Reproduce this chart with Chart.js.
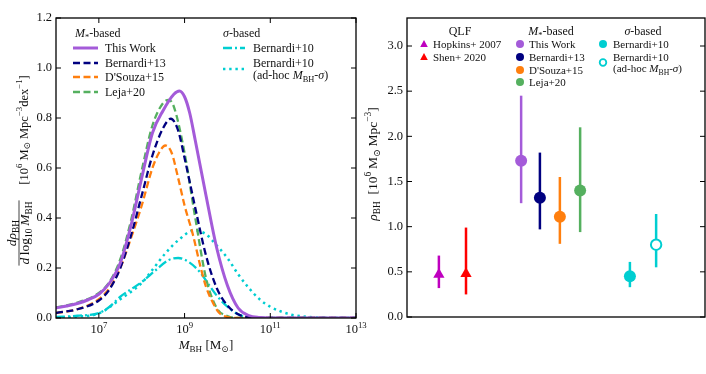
<!DOCTYPE html>
<html>
<head>
<meta charset="utf-8">
<script src="https://cdn.jsdelivr.net/npm/chart.js@4.4.1/dist/chart.umd.min.js"></script>
<style>
	html, body { margin: 0; padding: 0; background: #fff; }
	#wrap { position: relative; width: 706px; height: 374px; overflow: hidden; background: #fff; }
	#left { position: absolute; left: 0; top: 0; }
	#right { position: absolute; left: 360px; top: 0; }
</style>
</head>
<body>
<div id="wrap">
	<canvas id="left" width="400" height="374"></canvas>
	<canvas id="right" width="346" height="374"></canvas>
</div>
<script>
// ---- left panel: d rho_BH / d log10 M_BH  [10^6 Msun Mpc^-3 dex^-1] vs log10 M_BH
const massTicks = [7, 9, 11, 13]
const phiTicks = [0, 0.2, 0.4, 0.6, 0.8, 1.0, 1.2]

const thisWorkLogM = [6.0, 6.25, 6.5, 6.75, 7.0, 7.25, 7.5, 7.75, 8.0, 8.25, 8.5, 8.75, 8.88, 9.0, 9.12, 9.25, 9.5, 9.75, 10.0, 10.25, 10.5, 10.75, 11.0, 13.0]
const thisWorkPhi = [0.04, 0.048, 0.058, 0.073, 0.095, 0.14, 0.22, 0.37, 0.56, 0.74, 0.83, 0.895, 0.908, 0.885, 0.82, 0.71, 0.49, 0.28, 0.13, 0.04, 0.01, 0.002, 0, 0]

const bern13LogM = [6.0, 6.5, 7.0, 7.25, 7.5, 7.75, 8.0, 8.25, 8.5, 8.68, 8.85, 9.0, 9.25, 9.5, 9.75, 10.0, 10.25, 10.5, 10.75, 13.0]
const bern13Phi = [0.02, 0.035, 0.07, 0.115, 0.2, 0.33, 0.49, 0.65, 0.76, 0.797, 0.75, 0.64, 0.44, 0.25, 0.12, 0.05, 0.015, 0.003, 0, 0]

const dsouzaLogM = [6.0, 6.5, 7.0, 7.25, 7.5, 7.75, 8.0, 8.25, 8.4, 8.55, 8.7, 8.85, 9.0, 9.2, 9.35, 9.5, 9.65, 9.8, 10.0, 10.25, 13.0]
const dsouzaPhi = [0.02, 0.035, 0.075, 0.12, 0.2, 0.32, 0.45, 0.6, 0.66, 0.69, 0.66, 0.56, 0.45, 0.33, 0.22, 0.125, 0.065, 0.022, 0.004, 0, 0]

const lejaLogM = [6.0, 6.5, 7.0, 7.25, 7.5, 7.75, 8.0, 8.25, 8.5, 8.63, 8.75, 9.0, 9.25, 9.5, 9.75, 10.0, 10.25, 13.0]
const lejaPhi = [0.042, 0.062, 0.1, 0.145, 0.235, 0.39, 0.59, 0.77, 0.86, 0.872, 0.845, 0.66, 0.4, 0.16, 0.04, 0.008, 0, 0]

const bern10LogM = [6.0, 6.5, 7.0, 7.25, 7.5, 8.0, 8.33, 8.63, 8.85, 9.09, 9.35, 9.6, 9.75, 10.0, 10.25, 10.5, 10.75, 13.0]
const bern10Phi = [0.004, 0.009, 0.02, 0.045, 0.085, 0.144, 0.192, 0.232, 0.24, 0.225, 0.185, 0.125, 0.09, 0.045, 0.015, 0.003, 0, 0]

const adhocLogM = [6.0, 6.5, 7.0, 7.5, 8.0, 8.26, 8.56, 8.86, 9.22, 9.5, 9.75, 10.0, 10.25, 10.5, 10.75, 11.0, 11.25, 11.5, 11.75, 12.0, 12.5, 13.0]
const adhocPhi = [0.002, 0.006, 0.018, 0.075, 0.14, 0.195, 0.26, 0.312, 0.35, 0.335, 0.29, 0.24, 0.175, 0.12, 0.075, 0.045, 0.026, 0.013, 0.007, 0.003, 0, 0]

// ---- right panel: rho_BH [10^6 Msun Mpc^-3]
const rhoNames = ['Hopkins+ 2007', 'Shen+ 2020', 'This Work', 'Bernardi+13', "D'Souza+15", 'Leja+20', 'Bernardi+10', 'Bernardi+10 (ad-hoc)']
const rhoX = [1.07, 1.98, 3.83, 4.46, 5.13, 5.81, 7.48, 8.36]
const rhoVal = [0.47, 0.48, 1.73, 1.32, 1.11, 1.40, 0.45, 0.80]
const rhoLow = [0.32, 0.25, 1.26, 0.97, 0.81, 0.94, 0.33, 0.55]
const rhoHigh = [0.68, 0.99, 2.45, 1.82, 1.55, 2.10, 0.61, 1.14]
const rhoTicks = [0, 0.5, 1.0, 1.5, 2.0, 2.5, 3.0]

// styles
const SERIF = '"Liberation Serif", "DejaVu Serif", serif'
const PURPLE = '#a45bd9', NAVY = '#000080', ORANGE = '#ff7f0e', GREEN = '#55b05f', CYAN = '#00ced1'
const MAGENTA = '#bf00bf', RED = '#ff0000'
const rhoColor = [MAGENTA, RED, PURPLE, NAVY, ORANGE, GREEN, CYAN, CYAN]
const rhoShape = ['triangle', 'triangle', 'circle', 'circle', 'circle', 'circle', 'circle', 'circle']
const TXT = '#111'

function fontFor(style, size) {
	let s = /[bp]/.test(style) ? size * 0.7 : size
	return (style.includes('i') ? 'italic ' : '') + s + 'px ' + SERIF
}

function richWidth(ctx, parts, size) {
	let w = 0
	parts.forEach(p => {
		ctx.font = fontFor(p[1], size)
		w += ctx.measureText(p[0]).width
	})
	return w
}

// parts: [text, style] ; style: i = italic, b = subscript, p = superscript. y is the baseline
function drawRich(ctx, parts, x, y, size, align) {
	let w = richWidth(ctx, parts, size)
	let cx = align == 'center' ? x - w / 2 : align == 'right' ? x - w : x
	ctx.textAlign = 'left'
	ctx.textBaseline = 'alphabetic'
	ctx.fillStyle = TXT
	parts.forEach(p => {
		ctx.font = fontFor(p[1], size)
		let dy = p[1].includes('b') ? size * 0.22 : p[1].includes('p') ? -size * 0.42 : 0
		ctx.fillText(p[0], cx, y + dy)
		cx += ctx.measureText(p[0]).width
	})
	return w
}

function seg(ctx, x1, y1, x2, y2) {
	ctx.beginPath()
	ctx.moveTo(x1, y1)
	ctx.lineTo(x2, y2)
	ctx.stroke()
}

function drawFrame(chart, xTicks) {
	const ctx = chart.ctx, a = chart.chartArea
	const xs = chart.scales.x, ys = chart.scales.y
	ctx.save()
	ctx.strokeStyle = '#000'
	ctx.lineWidth = 1
	ctx.setLineDash([])
	ys.ticks.forEach(t => {
		let py = ys.getPixelForValue(t.value)
		seg(ctx, a.left, py, a.left + 5, py)
		seg(ctx, a.right - 5, py, a.right, py)
	})
	if (xTicks) xTicks.forEach(v => {
		let px = xs.getPixelForValue(v)
		seg(ctx, px, a.bottom, px, a.bottom - 5)
		seg(ctx, px, a.top, px, a.top + 5)
	})
	ctx.lineWidth = 1.3
	ctx.strokeRect(a.left, a.top, a.right - a.left, a.bottom - a.top)
	ctx.restore()
}

function curve(label, logM, phi, color, width, dash) {
	return {
		label: label,
		data: logM.map((m, i) => ({ x: m, y: phi[i] })),
		borderColor: color,
		borderWidth: width,
		borderDash: dash,
		borderCapStyle: 'butt',
		fill: false,
		cubicInterpolationMode: 'monotone',
		pointRadius: 0
	}
}

const leftDeco = {
	id: 'leftDeco',
	afterDraw(chart) {
		const ctx = chart.ctx, xs = chart.scales.x
		drawFrame(chart, massTicks)

		// x tick labels 10^n
		massTicks.forEach(v => {
			drawRich(ctx, [['10', ''], [String(v), 'p']], xs.getPixelForValue(v), 333, 12.5, 'center')
		})
		// x title
		drawRich(ctx, [['M', 'i'], ['BH', 'b'], [' [M', ''], ['⊙', 'b'], [']', '']], 206, 349, 13, 'center')

		// y title (rotated)
		ctx.save()
		ctx.translate(19, 233)
		ctx.rotate(-Math.PI / 2)
		drawRich(ctx, [['d', 'i'], ['ρ', 'i'], ['BH', 'b']], 0, -3, 13.5, 'center')
		let dw = drawRich(ctx, [['d', 'i'], ['\u2009log', ''], ['10', 'b'], ['\u2009', ''], ['M', 'i'], ['BH', 'b']], 0, 10, 13.5, 'center')
		ctx.strokeStyle = TXT
		ctx.lineWidth = 0.8
		seg(ctx, -dw / 2 - 1, 0, dw / 2 + 1, 0)
		drawRich(ctx, [['[10', ''], ['6', 'p'], [' M', ''], ['⊙', 'b'], [' Mpc', ''], ['−3', 'p'], ['dex', ''], ['−1', 'p'], [']', '']], 103, 8.5, 12.5, 'center')
		ctx.restore()

		// legend
		const ds = chart.data.datasets
		const rows = [
			{ i: 0, x1: 73, x2: 98, tx: 105, y: 48, lines: [[['This Work', '']]] },
			{ i: 1, x1: 73, x2: 98, tx: 105, y: 63, lines: [[['Bernardi+13', '']]] },
			{ i: 2, x1: 73, x2: 98, tx: 105, y: 77, lines: [[["D'Souza+15", '']]] },
			{ i: 3, x1: 73, x2: 98, tx: 105, y: 92, lines: [[['Leja+20', '']]] },
			{ i: 4, x1: 223, x2: 245, tx: 253, y: 48, lines: [[['Bernardi+10', '']]] },
			{ i: 5, x1: 223, x2: 245, tx: 253, y: 69, lines: [[['Bernardi+10', '']], [['(ad-hoc ', ''], ['M', 'i'], ['BH', 'b'], ['-', ''], ['σ', 'i'], [')', '']]] }
		]
		drawRich(ctx, [['M', 'i'], ['*', 'b'], ['-based', '']], 75, 33 + 4.2, 12, 'left')
		drawRich(ctx, [['σ', 'i'], ['-based', '']], 223, 33 + 4.2, 12, 'left')
		rows.forEach(r => {
			const d = ds[r.i]
			ctx.save()
			ctx.strokeStyle = d.borderColor
			ctx.lineWidth = d.borderWidth
			ctx.setLineDash(d.borderDash || [])
			seg(ctx, r.x1, r.y, r.x2, r.y)
			ctx.restore()
			const n = r.lines.length
			r.lines.forEach((ln, k) => {
				let cy = r.y + (k - (n - 1) / 2) * 12
				drawRich(ctx, ln, r.tx, cy + 4.2, 12, 'left')
			})
		})
	}
}

new Chart(document.getElementById('left'), {
	type: 'line',
	data: {
		datasets: [
			curve('This Work', thisWorkLogM, thisWorkPhi, PURPLE, 3, []),
			curve('Bernardi+13', bern13LogM, bern13Phi, NAVY, 2.3, [7, 3.5]),
			curve("D'Souza+15", dsouzaLogM, dsouzaPhi, ORANGE, 2.3, [7, 3.5]),
			curve('Leja+20', lejaLogM, lejaPhi, GREEN, 2.3, [7, 3.5]),
			curve('Bernardi+10', bern10LogM, bern10Phi, CYAN, 2.3, [9, 3, 2, 3]),
			curve('Bernardi+10 (ad-hoc)', adhocLogM, adhocPhi, CYAN, 2.5, [2.4, 3.8])
		]
	},
	options: {
		responsive: false,
		animation: false,
		layout: { autoPadding: false, padding: { left: 0, top: 18, right: 44, bottom: 0 } },
		plugins: { legend: { display: false }, tooltip: { enabled: false } },
		scales: {
			x: {
				type: 'linear', min: 6, max: 13,
				grid: { display: false, drawTicks: false },
				border: { display: false },
				ticks: { display: false },
				afterFit: s => { s.height = 56 }
			},
			y: {
				min: 0, max: 1.2,
				grid: { display: false, drawTicks: false },
				border: { display: false },
				ticks: { padding: 4, color: TXT, font: { family: SERIF, size: 12.5 }, callback: v => v.toFixed(1) },
				afterBuildTicks: s => { s.ticks = phiTicks.map(v => ({ value: v })) },
				afterFit: s => { s.width = 56 }
			}
		}
	},
	plugins: [leftDeco]
})

function drawMarker(ctx, shape, x, y, r, fill, stroke, lw) {
	ctx.beginPath()
	if (shape == 'triangle') {
		ctx.moveTo(x, y - r)
		ctx.lineTo(x + r * 0.95, y + r * 0.75)
		ctx.lineTo(x - r * 0.95, y + r * 0.75)
		ctx.closePath()
	} else {
		ctx.arc(x, y, r, 0, Math.PI * 2)
	}
	ctx.fillStyle = fill
	ctx.fill()
	if (lw) {
		ctx.lineWidth = lw
		ctx.strokeStyle = stroke
		ctx.stroke()
	}
}

const rightDeco = {
	id: 'rightDeco',
	beforeDatasetsDraw(chart) {
		// error bars
		const ctx = chart.ctx, xs = chart.scales.x, ys = chart.scales.y
		ctx.save()
		ctx.lineWidth = 2.5
		rhoX.forEach((x, i) => {
			ctx.strokeStyle = rhoColor[i]
			let px = xs.getPixelForValue(x)
			seg(ctx, px, ys.getPixelForValue(rhoLow[i]), px, ys.getPixelForValue(rhoHigh[i]))
		})
		ctx.restore()
	},
	afterDraw(chart) {
		const ctx = chart.ctx
		drawFrame(chart, null)
		const ox = -360 // canvas sits at x = 360 on the page

		// y title
		ctx.save()
		ctx.translate(377 + ox, 164)
		ctx.rotate(-Math.PI / 2)
		drawRich(ctx, [['ρ', 'i'], ['BH', 'b'], ['\u2002[10', ''], ['6', 'p'], ['\u2009M', ''], ['⊙', 'b'], ['\u2009Mpc', ''], ['−3', 'p'], [']', '']], 0, 0, 13.5, 'center')
		ctx.restore()

		// legend
		drawRich(ctx, [['QLF', '']], 460 + ox, 31 + 4.2, 12, 'center')
		drawRich(ctx, [['M', 'i'], ['*', 'b'], ['-based', '']], 551 + ox, 31 + 4.2, 12, 'center')
		drawRich(ctx, [['σ', 'i'], ['-based', '']], 643 + ox, 31 + 4.2, 12, 'center')
		const items = [
			{ i: 0, mx: 424, tx: 433, y: 44, lines: [[['Hopkins+ 2007', '']]] },
			{ i: 1, mx: 424, tx: 433, y: 57, lines: [[['Shen+ 2020', '']]] },
			{ i: 2, mx: 520, tx: 529, y: 44, lines: [[['This Work', '']]] },
			{ i: 3, mx: 520, tx: 529, y: 57, lines: [[['Bernardi+13', '']]] },
			{ i: 4, mx: 520, tx: 529, y: 70, lines: [[["D'Souza+15", '']]] },
			{ i: 5, mx: 520, tx: 529, y: 82, lines: [[['Leja+20', '']]] },
			{ i: 6, mx: 603, tx: 613, y: 44, lines: [[['Bernardi+10', '']]] },
			{ i: 7, mx: 603, tx: 613, y: 62.5, lines: [[['Bernardi+10', '']], [['(ad-hoc ', ''], ['M', 'i'], ['BH', 'b'], ['-', ''], ['σ', 'i'], [')', '']]] }
		]
		items.forEach(it => {
			const d = chart.data.datasets[it.i]
			ctx.save()
			if (it.i == 7) drawMarker(ctx, 'circle', it.mx + ox, it.y, 3.3, '#fff', d.borderColor, 1.8)
			else drawMarker(ctx, rhoShape[it.i], it.mx + ox, it.y, 4, d.backgroundColor, null, 0)
			ctx.restore()
			const n = it.lines.length
			it.lines.forEach((ln, k) => {
				let cy = it.y + (k - (n - 1) / 2) * 11.5
				drawRich(ctx, ln, it.tx + ox, cy + 3.9, 11, 'left')
			})
		})
	}
}

new Chart(document.getElementById('right'), {
	type: 'scatter',
	data: {
		datasets: rhoNames.map((name, i) => ({
			label: name,
			data: [{ x: rhoX[i], y: rhoVal[i] }],
			pointStyle: rhoShape[i],
			pointRadius: rhoShape[i] == 'triangle' ? 6.5 : (i == 7 ? 5.2 : 6),
			backgroundColor: i == 7 ? '#fff' : rhoColor[i],
			borderColor: rhoColor[i],
			borderWidth: i == 7 ? 2 : 0
		}))
	},
	options: {
		responsive: false,
		animation: false,
		layout: { autoPadding: false, padding: { left: 0, top: 18, right: 1, bottom: 0 } },
		plugins: { legend: { display: false }, tooltip: { enabled: false } },
		scales: {
			x: {
				type: 'linear', min: 0, max: 10,
				grid: { display: false, drawTicks: false },
				border: { display: false },
				ticks: { display: false },
				afterFit: s => { s.height = 57 }
			},
			y: {
				min: 0, max: 3.31,
				grid: { display: false, drawTicks: false },
				border: { display: false },
				ticks: { padding: 4, color: TXT, font: { family: SERIF, size: 12.5 }, callback: v => v.toFixed(1) },
				afterBuildTicks: s => { s.ticks = rhoTicks.map(v => ({ value: v })) },
				afterFit: s => { s.width = 47 }
			}
		}
	},
	plugins: [rightDeco]
})
</script>
</body>
</html>
